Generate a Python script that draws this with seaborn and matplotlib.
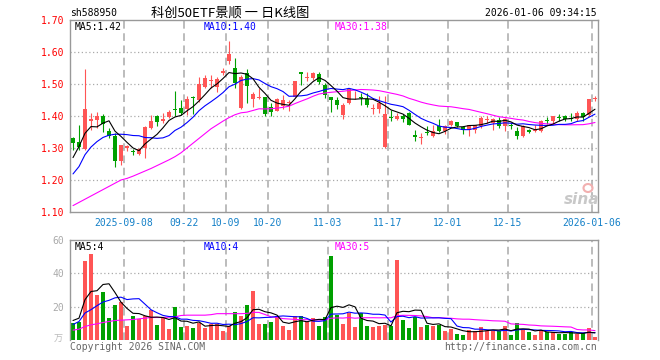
import numpy as np
import pandas as pd
import matplotlib
matplotlib.use("Agg")
import matplotlib.pyplot as plt
from matplotlib.patches import Ellipse
import seaborn as sns

sns.set_theme(style="white")
plt.rcParams['font.family'] = ['DejaVu Sans Mono', 'Noto Sans CJK SC']

# daily candles, 2025-08-26 .. 2026-01-06 (88 trading days)
opens = [1.330, 1.318, 1.297, 1.385, 1.388, 1.400, 1.353, 1.339, 1.258, 1.300,
         1.289, 1.281, 1.300, 1.364, 1.401, 1.383, 1.398, 1.423, 1.426, 1.422,
         1.457, 1.450, 1.491, 1.510, 1.491, 1.533, 1.572, 1.550, 1.426, 1.533,
         1.452, 1.457, 1.459, 1.428, 1.417, 1.431, 1.440, 1.460, 1.536, 1.518,
         1.518, 1.530, 1.496, 1.459, 1.451, 1.404, 1.441, 1.461, 1.459, 1.454,
         1.422, 1.423, 1.302, 1.395, 1.391, 1.399, 1.409, 1.342, 1.332, 1.350,
         1.338, 1.368, 1.354, 1.373, 1.380, 1.366, 1.357, 1.357, 1.368, 1.387,
         1.378, 1.389, 1.370, 1.371, 1.354, 1.336, 1.357, 1.352, 1.352, 1.386,
         1.385, 1.397, 1.399, 1.394, 1.391, 1.409, 1.402, 1.453]
closes = [1.315, 1.303, 1.422, 1.390, 1.400, 1.374, 1.339, 1.260, 1.308, 1.307,
          1.287, 1.296, 1.366, 1.384, 1.380, 1.390, 1.411, 1.420, 1.408, 1.452,
          1.455, 1.500, 1.519, 1.512, 1.515, 1.540, 1.593, 1.502, 1.522, 1.495,
          1.470, 1.459, 1.407, 1.414, 1.452, 1.450, 1.445, 1.508, 1.530, 1.519,
          1.535, 1.507, 1.465, 1.449, 1.433, 1.433, 1.485, 1.462, 1.457, 1.433,
          1.424, 1.440, 1.406, 1.393, 1.400, 1.391, 1.373, 1.333, 1.334, 1.348,
          1.354, 1.354, 1.370, 1.383, 1.368, 1.357, 1.373, 1.373, 1.394, 1.389,
          1.391, 1.368, 1.391, 1.369, 1.339, 1.370, 1.350, 1.357, 1.384, 1.384,
          1.399, 1.395, 1.391, 1.391, 1.409, 1.397, 1.454, 1.455]
highs = [1.335, 1.372, 1.548, 1.410, 1.413, 1.405, 1.362, 1.346, 1.310, 1.310,
         1.298, 1.300, 1.370, 1.403, 1.403, 1.408, 1.418, 1.478, 1.450, 1.463,
         1.462, 1.522, 1.528, 1.528, 1.522, 1.550, 1.633, 1.581, 1.528, 1.548,
         1.476, 1.486, 1.459, 1.440, 1.455, 1.466, 1.450, 1.508, 1.538, 1.538,
         1.538, 1.538, 1.502, 1.459, 1.458, 1.440, 1.485, 1.479, 1.472, 1.472,
         1.437, 1.463, 1.463, 1.420, 1.409, 1.406, 1.412, 1.357, 1.347, 1.368,
         1.371, 1.390, 1.373, 1.389, 1.380, 1.368, 1.373, 1.373, 1.399, 1.401,
         1.394, 1.396, 1.394, 1.378, 1.365, 1.373, 1.359, 1.373, 1.387, 1.396,
         1.399, 1.406, 1.404, 1.410, 1.415, 1.411, 1.454, 1.462]
lows = [1.295, 1.294, 1.295, 1.357, 1.362, 1.350, 1.330, 1.240, 1.248, 1.290,
        1.277, 1.277, 1.270, 1.360, 1.370, 1.377, 1.393, 1.400, 1.403, 1.403,
        1.405, 1.445, 1.486, 1.486, 1.476, 1.527, 1.564, 1.488, 1.422, 1.441,
        1.429, 1.454, 1.400, 1.400, 1.416, 1.421, 1.416, 1.460, 1.496, 1.508,
        1.512, 1.500, 1.457, 1.413, 1.423, 1.392, 1.439, 1.454, 1.433, 1.428,
        1.406, 1.409, 1.300, 1.383, 1.388, 1.381, 1.371, 1.321, 1.312, 1.340,
        1.334, 1.349, 1.345, 1.368, 1.366, 1.345, 1.336, 1.346, 1.362, 1.378,
        1.357, 1.364, 1.354, 1.360, 1.329, 1.333, 1.347, 1.350, 1.349, 1.374,
        1.375, 1.383, 1.385, 1.385, 1.383, 1.385, 1.399, 1.446]
# volume in 万
volumes = [10.5, 11.1, 47.5, 51.5, 27.3, 29.1, 13.3, 21.2, 22.6, 8.5,
           14.5, 12.5, 14.5, 18.2, 9.1, 13.1, 6.7, 20.0, 7.9, 8.5,
           7.3, 10.5, 7.3, 9.7, 9.7, 5.5, 8.5, 17.0, 14.5, 21.2,
           29.7, 9.7, 9.7, 11.1, 14.5, 8.5, 6.1, 14.5, 14.5, 11.1,
           13.3, 8.5, 13.9, 50.5, 15.2, 9.7, 16.2, 7.9, 16.2, 8.5,
           7.9, 8.5, 9.1, 8.5, 47.9, 12.1, 7.3, 13.9, 7.9, 9.1,
           8.5, 9.1, 5.5, 6.7, 3.6, 3.0, 6.1, 5.5, 7.9, 5.5,
           5.5, 5.5, 8.5, 3.0, 10.3, 6.1, 4.8, 3.0, 5.5, 4.8,
           4.8, 3.6, 3.6, 4.8, 3.6, 4.2, 7.3, 1.6]

# moving average values before the window fills
ma5_head = [1.270, 1.305, 1.346, 1.367]
ma10_head = [1.219, 1.242, 1.279, 1.303, 1.320, 1.333, 1.340, 1.343, 1.343]
ma30_head = [1.120, 1.130, 1.140, 1.150, 1.160, 1.170, 1.180, 1.190, 1.200, 1.205,
             1.212, 1.220, 1.228, 1.236, 1.245, 1.254, 1.263, 1.273, 1.285, 1.300,
             1.315, 1.330, 1.345, 1.360, 1.372, 1.384, 1.395, 1.404, 1.410]
vma5_head = [11.7, 13.1, 24.2, 29.1]
vma10_head = [9.3, 11.1, 16.2, 18.2, 20.6, 22.8, 23.8, 25.3, 25.7]
vma30_head = [5.9, 6.5, 8.1, 9.1, 9.7, 10.5, 11.1, 11.7, 11.9, 12.1,
              12.3, 12.7, 13.1, 13.5, 13.5, 13.5, 13.7, 13.9, 14.7, 14.9,
              14.9, 14.9, 14.9, 15.2, 15.8, 15.8, 15.8, 15.8, 15.8]

tick_idx = [9, 19, 26, 33, 43, 53, 63, 73, 87]
tick_labels = ["2025-09-08", "09-22", "10-09", "10-20", "11-03",
               "11-17", "12-01", "12-15", "2026-01-06"]

RED = "#ff5555"
GREEN = "#00a000"
GRID = "#aaaaaa"
FRAME = "#999999"


def moving_avg(values, window, head):
    s = pd.Series(values).rolling(window).mean()
    s.iloc[:len(head)] = head
    return s.to_numpy()


df = pd.DataFrame({"open": opens, "close": closes, "high": highs,
                   "low": lows, "vol": volumes})
n = len(df)
df["x"] = np.arange(n)
df["dir"] = np.where(df["close"] >= df["open"], "up", "down")
colors = np.where(df["dir"] == "up", RED, GREEN)

ma5 = moving_avg(closes, 5, ma5_head)
ma10 = moving_avg(closes, 10, ma10_head)
ma30 = moving_avg(closes, 30, ma30_head)
vma5 = moving_avg(volumes, 5, vma5_head)
vma10 = moving_avg(volumes, 10, vma10_head)
vma30 = moving_avg(volumes, 30, vma30_head)

W, H = 660, 360
fig = plt.figure(figsize=(W / 100, H / 100), dpi=100)
fig.patch.set_facecolor("white")
ax = fig.add_axes([70 / W, 1 - 212 / H, 528 / W, 192 / H])
axv = fig.add_axes([70 / W, 1 - 340 / H, 528 / W, 100 / H])

# grid
for lv in [1.2, 1.3, 1.4, 1.5, 1.6]:
    ax.axhline(lv, color=GRID, lw=0.9, ls=(0, (1, 2)), zorder=0)
for lv in [20, 40]:
    axv.axhline(lv, color=GRID, lw=0.9, ls=(0, (1, 2)), zorder=0)
for t in tick_idx:
    ax.axvline(t - 0.5, color=GRID, lw=1.1, ls=(0, (5, 3)), zorder=0)
    axv.axvline(t - 0.5, color=GRID, lw=1.1, ls=(0, (5, 3)), zorder=0)

# candles
ax.vlines(df["x"], df["low"], df["high"], colors=colors, lw=0.8, zorder=2)
body_low = np.minimum(df["open"], df["close"])
body_h = np.maximum((df["close"] - df["open"]).abs(), 0.003)
ax.bar(df["x"], body_h, bottom=body_low, width=0.8, color=colors, lw=0, zorder=3)

for ma, c in [(ma30, "#ff00ff"), (ma10, "#0000ff"), (ma5, "black")]:
    sns.lineplot(x=df["x"], y=ma, ax=ax, color=c, lw=0.8, zorder=4)

# volume
sns.barplot(data=df, x="x", y="vol", hue="dir", palette={"up": RED, "down": GREEN},
            dodge=False, width=0.8, saturation=1, errorbar=None, legend=False,
            linewidth=0, ax=axv, zorder=2)
for ma, c in [(vma30, "#ff00ff"), (vma10, "#0000ff"), (vma5, "black")]:
    sns.lineplot(x=df["x"], y=ma, ax=axv, color=c, lw=0.8, zorder=4)

ax.set_xlim(-0.5, n - 0.5)
axv.set_xlim(-0.5, n - 0.5)
ax.set_ylim(1.10, 1.70)
axv.set_ylim(0, 60)

ax.set_yticks([1.1, 1.2, 1.3, 1.4, 1.5, 1.6, 1.7])
ax.set_yticklabels([f"{v:.2f}" for v in [1.1, 1.2, 1.3, 1.4, 1.5, 1.6, 1.7]])
ax.set_xticks([t - 0.5 for t in tick_idx])
ax.set_xticklabels(tick_labels)
ax.tick_params(axis="y", length=0, pad=4, labelsize=7, labelcolor="red")
ax.tick_params(axis="x", length=0, pad=4, labelsize=7, labelcolor="#1480c8")

axv.set_yticks([20, 40, 60])
axv.set_yticklabels(["20", "40", "60"])
axv.set_xticks([])
axv.tick_params(axis="y", length=0, pad=4, labelsize=7, labelcolor="#aaaaaa")

for a in (ax, axv):
    a.set_xlabel("")
    a.set_ylabel("")
    for sp in a.spines.values():
        sp.set_color(FRAME)
        sp.set_linewidth(1.0)
axv.spines["bottom"].set_visible(False)


def px(x, y):
    return x / W, 1 - y / H


fig.text(*px(70, 13.5), "sh588950", fontsize=7, va="center", ha="left", color="black")
fig.text(*px(230, 13), "科创50ETF景顺 一 日K线图", fontsize=9.5, va="center", ha="center",
         color="black", family=["Noto Sans CJK SC", "DejaVu Sans"])
fig.text(*px(597, 13.5), "2026-01-06 09:34:15", fontsize=7, va="center", ha="right",
         color="black")

fig.text(*px(75, 26.5), "MA5:1.42", fontsize=7, va="center", color="black")
fig.text(*px(204, 26.5), "MA10:1.40", fontsize=7, va="center", color="#0000ff")
fig.text(*px(335, 26.5), "MA30:1.38", fontsize=7, va="center", color="#ff00ff")

fig.text(*px(75, 246.5), "MA5:4", fontsize=7, va="center", color="black")
fig.text(*px(204, 246.5), "MA10:4", fontsize=7, va="center", color="#0000ff")
fig.text(*px(335, 246.5), "MA30:5", fontsize=7, va="center", color="#ff00ff")

fig.text(*px(63, 339), "万", fontsize=6.5, va="center", ha="right", color="#bbbbbb",
         family=["Noto Sans CJK SC", "DejaVu Sans"])
fig.text(*px(70, 346.5), "Copyright 2026 SINA.COM", fontsize=7, va="center",
         ha="left", color="#666666")
fig.text(*px(597, 346.5), "http://finance.sina.com.cn", fontsize=7, va="center",
         ha="right", color="#666666")

# sina watermark
fig.text(*px(582, 200), "sina", fontsize=11, style="italic", weight="bold",
         color="#c8c8c8", ha="center", va="center", family="DejaVu Sans")
fig.patches.append(Ellipse(px(588, 188), 9 / W, 8 / H, transform=fig.transFigure,
                           facecolor="none", edgecolor="#f2b0b0", lw=1.5))

fig.savefig("out.png", dpi=100, facecolor="white")
